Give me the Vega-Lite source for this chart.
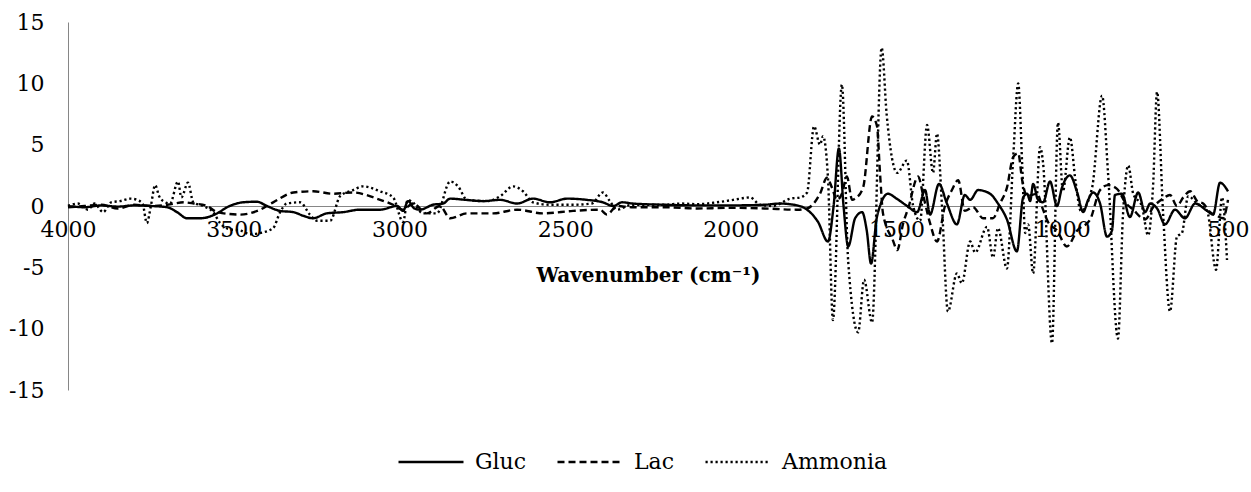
{
"$schema": "https://vega.github.io/schema/vega-lite/v6.json",
"width": 1160, "height": 368,
"autosize": {"type": "none"},
"padding": {"left": 68, "top": 22, "right": 23, "bottom": 102},
"config": {"view": {"stroke": null}, "font": "DejaVu Serif"},
"data": {"values": [
{"w":4000,"v":0,"s":"Gluc"},{"w":3950,"v":-0.1,"s":"Gluc"},{"w":3900,"v":0.05,"s":"Gluc"},{"w":3850,"v":-0.05,"s":"Gluc"},{"w":3800,"v":0.05,"s":"Gluc"},{"w":3750,"v":0,"s":"Gluc"},{"w":3701,"v":-0.1,"s":"Gluc"},{"w":3671,"v":-0.5,"s":"Gluc"},{"w":3641,"v":-1.0,"s":"Gluc"},{"w":3600,"v":-1.0,"s":"Gluc"},{"w":3550,"v":-0.6,"s":"Gluc"},{"w":3520,"v":-0.1,"s":"Gluc"},{"w":3472,"v":0.3,"s":"Gluc"},{"w":3430,"v":0.35,"s":"Gluc"},{"w":3400,"v":0,"s":"Gluc"},{"w":3360,"v":-0.4,"s":"Gluc"},{"w":3320,"v":-0.5,"s":"Gluc"},{"w":3290,"v":-0.8,"s":"Gluc"},{"w":3261,"v":-1.0,"s":"Gluc"},{"w":3219,"v":-0.6,"s":"Gluc"},{"w":3170,"v":-0.5,"s":"Gluc"},{"w":3119,"v":-0.3,"s":"Gluc"},{"w":3059,"v":-0.3,"s":"Gluc"},{"w":3007,"v":0,"s":"Gluc"},{"w":2989,"v":-0.4,"s":"Gluc"},{"w":2974,"v":0.4,"s":"Gluc"},{"w":2955,"v":-0.2,"s":"Gluc"},{"w":2938,"v":-0.3,"s":"Gluc"},{"w":2899,"v":0.1,"s":"Gluc"},{"w":2868,"v":0.2,"s":"Gluc"},{"w":2847,"v":0.6,"s":"Gluc"},{"w":2800,"v":0.5,"s":"Gluc"},{"w":2748,"v":0.4,"s":"Gluc"},{"w":2696,"v":0.5,"s":"Gluc"},{"w":2645,"v":0.2,"s":"Gluc"},{"w":2597,"v":0.6,"s":"Gluc"},{"w":2546,"v":0.3,"s":"Gluc"},{"w":2494,"v":0.6,"s":"Gluc"},{"w":2434,"v":0.5,"s":"Gluc"},{"w":2386,"v":0.3,"s":"Gluc"},{"w":2355,"v":0,"s":"Gluc"},{"w":2328,"v":0.3,"s":"Gluc"},{"w":2295,"v":0.2,"s":"Gluc"},{"w":2200,"v":0.1,"s":"Gluc"},{"w":2100,"v":0.05,"s":"Gluc"},{"w":2000,"v":0.05,"s":"Gluc"},{"w":1900,"v":0.1,"s":"Gluc"},{"w":1852,"v":0.2,"s":"Gluc"},{"w":1800,"v":0.05,"s":"Gluc"},{"w":1770,"v":-0.3,"s":"Gluc"},{"w":1737,"v":-1.3,"s":"Gluc"},{"w":1707,"v":-2.9,"s":"Gluc"},{"w":1690,"v":0,"s":"Gluc"},{"w":1674,"v":4.7,"s":"Gluc"},{"w":1660,"v":0,"s":"Gluc"},{"w":1646,"v":-3.3,"s":"Gluc"},{"w":1625,"v":-1.0,"s":"Gluc"},{"w":1604,"v":-0.5,"s":"Gluc"},{"w":1590,"v":-2.0,"s":"Gluc"},{"w":1577,"v":-4.7,"s":"Gluc"},{"w":1560,"v":-1.0,"s":"Gluc"},{"w":1550,"v":0,"s":"Gluc"},{"w":1526,"v":1.0,"s":"Gluc"},{"w":1500,"v":0.6,"s":"Gluc"},{"w":1468,"v":0,"s":"Gluc"},{"w":1438,"v":-0.5,"s":"Gluc"},{"w":1414,"v":1.3,"s":"Gluc"},{"w":1399,"v":-0.7,"s":"Gluc"},{"w":1372,"v":1.8,"s":"Gluc"},{"w":1348,"v":0.2,"s":"Gluc"},{"w":1318,"v":-1.5,"s":"Gluc"},{"w":1294,"v":0.9,"s":"Gluc"},{"w":1278,"v":0.5,"s":"Gluc"},{"w":1254,"v":1.3,"s":"Gluc"},{"w":1218,"v":1.0,"s":"Gluc"},{"w":1194,"v":0.2,"s":"Gluc"},{"w":1167,"v":-1.1,"s":"Gluc"},{"w":1137,"v":-3.7,"s":"Gluc"},{"w":1118,"v":0.7,"s":"Gluc"},{"w":1106,"v":1.0,"s":"Gluc"},{"w":1097,"v":0.4,"s":"Gluc"},{"w":1088,"v":1.8,"s":"Gluc"},{"w":1073,"v":0.5,"s":"Gluc"},{"w":1058,"v":0.3,"s":"Gluc"},{"w":1037,"v":2.0,"s":"Gluc"},{"w":1016,"v":0,"s":"Gluc"},{"w":1001,"v":1.5,"s":"Gluc"},{"w":977,"v":2.5,"s":"Gluc"},{"w":955,"v":1.1,"s":"Gluc"},{"w":937,"v":-0.5,"s":"Gluc"},{"w":922,"v":0.5,"s":"Gluc"},{"w":907,"v":1.1,"s":"Gluc"},{"w":886,"v":0.2,"s":"Gluc"},{"w":865,"v":-2.5,"s":"Gluc"},{"w":850,"v":-2.0,"s":"Gluc"},{"w":841,"v":0.9,"s":"Gluc"},{"w":820,"v":1.0,"s":"Gluc"},{"w":796,"v":-0.9,"s":"Gluc"},{"w":771,"v":1.1,"s":"Gluc"},{"w":750,"v":-0.5,"s":"Gluc"},{"w":735,"v":0.2,"s":"Gluc"},{"w":714,"v":-0.2,"s":"Gluc"},{"w":690,"v":-1.5,"s":"Gluc"},{"w":660,"v":-0.3,"s":"Gluc"},{"w":630,"v":-1.0,"s":"Gluc"},{"w":599,"v":0.2,"s":"Gluc"},{"w":563,"v":-0.4,"s":"Gluc"},{"w":545,"v":-0.7,"s":"Gluc"},{"w":524,"v":1.9,"s":"Gluc"},{"w":500,"v":1.2,"s":"Gluc"},

{"w":4000,"v":-0.1,"s":"Lac"},{"w":3950,"v":0,"s":"Lac"},{"w":3900,"v":0.1,"s":"Lac"},{"w":3850,"v":-0.2,"s":"Lac"},{"w":3800,"v":0.1,"s":"Lac"},{"w":3750,"v":0,"s":"Lac"},{"w":3700,"v":0.1,"s":"Lac"},{"w":3650,"v":0.3,"s":"Lac"},{"w":3620,"v":0.2,"s":"Lac"},{"w":3580,"v":0,"s":"Lac"},{"w":3550,"v":-0.5,"s":"Lac"},{"w":3481,"v":-0.7,"s":"Lac"},{"w":3420,"v":-0.3,"s":"Lac"},{"w":3381,"v":0.3,"s":"Lac"},{"w":3320,"v":1.1,"s":"Lac"},{"w":3260,"v":1.2,"s":"Lac"},{"w":3200,"v":1.0,"s":"Lac"},{"w":3140,"v":1.1,"s":"Lac"},{"w":3068,"v":0.6,"s":"Lac"},{"w":3019,"v":0.1,"s":"Lac"},{"w":2990,"v":-0.3,"s":"Lac"},{"w":2959,"v":0.2,"s":"Lac"},{"w":2917,"v":-0.6,"s":"Lac"},{"w":2878,"v":0,"s":"Lac"},{"w":2847,"v":-1.0,"s":"Lac"},{"w":2796,"v":-0.6,"s":"Lac"},{"w":2717,"v":-0.6,"s":"Lac"},{"w":2645,"v":-0.3,"s":"Lac"},{"w":2567,"v":-0.6,"s":"Lac"},{"w":2476,"v":-0.4,"s":"Lac"},{"w":2395,"v":-0.3,"s":"Lac"},{"w":2374,"v":-0.7,"s":"Lac"},{"w":2343,"v":0,"s":"Lac"},{"w":2300,"v":-0.1,"s":"Lac"},{"w":2200,"v":-0.1,"s":"Lac"},{"w":2100,"v":-0.2,"s":"Lac"},{"w":2000,"v":-0.15,"s":"Lac"},{"w":1900,"v":-0.2,"s":"Lac"},{"w":1800,"v":-0.3,"s":"Lac"},{"w":1770,"v":-0.2,"s":"Lac"},{"w":1731,"v":1.0,"s":"Lac"},{"w":1710,"v":2.3,"s":"Lac"},{"w":1695,"v":1.5,"s":"Lac"},{"w":1680,"v":0.5,"s":"Lac"},{"w":1665,"v":1.0,"s":"Lac"},{"w":1650,"v":2.4,"s":"Lac"},{"w":1634,"v":0.5,"s":"Lac"},{"w":1625,"v":0.6,"s":"Lac"},{"w":1601,"v":1.5,"s":"Lac"},{"w":1574,"v":7.3,"s":"Lac"},{"w":1559,"v":6.5,"s":"Lac"},{"w":1550,"v":2.7,"s":"Lac"},{"w":1541,"v":-0.6,"s":"Lac"},{"w":1511,"v":-2.8,"s":"Lac"},{"w":1498,"v":-3.6,"s":"Lac"},{"w":1480,"v":-1.4,"s":"Lac"},{"w":1465,"v":-0.2,"s":"Lac"},{"w":1435,"v":2.4,"s":"Lac"},{"w":1420,"v":0.9,"s":"Lac"},{"w":1399,"v":-1.4,"s":"Lac"},{"w":1378,"v":-2.9,"s":"Lac"},{"w":1354,"v":0,"s":"Lac"},{"w":1333,"v":1.3,"s":"Lac"},{"w":1314,"v":2.1,"s":"Lac"},{"w":1294,"v":-0.4,"s":"Lac"},{"w":1269,"v":-0.1,"s":"Lac"},{"w":1239,"v":-1.0,"s":"Lac"},{"w":1209,"v":-1.0,"s":"Lac"},{"w":1188,"v":0.2,"s":"Lac"},{"w":1167,"v":1.5,"s":"Lac"},{"w":1148,"v":4.0,"s":"Lac"},{"w":1133,"v":4.3,"s":"Lac"},{"w":1121,"v":2.1,"s":"Lac"},{"w":1106,"v":0.8,"s":"Lac"},{"w":1076,"v":1.0,"s":"Lac"},{"w":1058,"v":-0.3,"s":"Lac"},{"w":1043,"v":-1.3,"s":"Lac"},{"w":1016,"v":-2.0,"s":"Lac"},{"w":986,"v":-3.3,"s":"Lac"},{"w":955,"v":-2.0,"s":"Lac"},{"w":916,"v":-1.1,"s":"Lac"},{"w":886,"v":1.3,"s":"Lac"},{"w":862,"v":1.7,"s":"Lac"},{"w":835,"v":1.4,"s":"Lac"},{"w":810,"v":0.3,"s":"Lac"},{"w":786,"v":-0.3,"s":"Lac"},{"w":750,"v":-1.1,"s":"Lac"},{"w":726,"v":-0.1,"s":"Lac"},{"w":696,"v":0.6,"s":"Lac"},{"w":675,"v":0.9,"s":"Lac"},{"w":654,"v":0,"s":"Lac"},{"w":635,"v":0.7,"s":"Lac"},{"w":614,"v":1.2,"s":"Lac"},{"w":593,"v":0.4,"s":"Lac"},{"w":575,"v":0.2,"s":"Lac"},{"w":554,"v":-0.5,"s":"Lac"},{"w":533,"v":-0.8,"s":"Lac"},{"w":515,"v":-1.0,"s":"Lac"},{"w":500,"v":0.5,"s":"Lac"},

{"w":4000,"v":0,"s":"Ammonia"},{"w":3970,"v":0.2,"s":"Ammonia"},{"w":3940,"v":-0.3,"s":"Ammonia"},{"w":3920,"v":0.2,"s":"Ammonia"},{"w":3894,"v":-0.5,"s":"Ammonia"},{"w":3870,"v":0.3,"s":"Ammonia"},{"w":3843,"v":0.4,"s":"Ammonia"},{"w":3810,"v":0.6,"s":"Ammonia"},{"w":3792,"v":0.5,"s":"Ammonia"},{"w":3775,"v":0.2,"s":"Ammonia"},{"w":3762,"v":-1.4,"s":"Ammonia"},{"w":3750,"v":0,"s":"Ammonia"},{"w":3737,"v":1.7,"s":"Ammonia"},{"w":3725,"v":0.8,"s":"Ammonia"},{"w":3713,"v":0.4,"s":"Ammonia"},{"w":3692,"v":0.2,"s":"Ammonia"},{"w":3668,"v":2.0,"s":"Ammonia"},{"w":3658,"v":0.7,"s":"Ammonia"},{"w":3638,"v":1.9,"s":"Ammonia"},{"w":3622,"v":0.3,"s":"Ammonia"},{"w":3592,"v":0,"s":"Ammonia"},{"w":3562,"v":-0.5,"s":"Ammonia"},{"w":3541,"v":-1.4,"s":"Ammonia"},{"w":3511,"v":-1.9,"s":"Ammonia"},{"w":3480,"v":-2.0,"s":"Ammonia"},{"w":3450,"v":-2.3,"s":"Ammonia"},{"w":3420,"v":-2.2,"s":"Ammonia"},{"w":3381,"v":-1.8,"s":"Ammonia"},{"w":3360,"v":-0.5,"s":"Ammonia"},{"w":3340,"v":0.2,"s":"Ammonia"},{"w":3300,"v":0.3,"s":"Ammonia"},{"w":3270,"v":-0.7,"s":"Ammonia"},{"w":3249,"v":-1.2,"s":"Ammonia"},{"w":3209,"v":-1.2,"s":"Ammonia"},{"w":3179,"v":0.8,"s":"Ammonia"},{"w":3140,"v":1.3,"s":"Ammonia"},{"w":3110,"v":1.6,"s":"Ammonia"},{"w":3059,"v":1.2,"s":"Ammonia"},{"w":3019,"v":0.7,"s":"Ammonia"},{"w":2989,"v":-1.3,"s":"Ammonia"},{"w":2975,"v":0.5,"s":"Ammonia"},{"w":2960,"v":0.3,"s":"Ammonia"},{"w":2929,"v":-0.6,"s":"Ammonia"},{"w":2887,"v":-0.6,"s":"Ammonia"},{"w":2847,"v":2.0,"s":"Ammonia"},{"w":2823,"v":1.6,"s":"Ammonia"},{"w":2796,"v":0.5,"s":"Ammonia"},{"w":2736,"v":0.4,"s":"Ammonia"},{"w":2696,"v":0.8,"s":"Ammonia"},{"w":2657,"v":1.6,"s":"Ammonia"},{"w":2627,"v":1.2,"s":"Ammonia"},{"w":2597,"v":0.3,"s":"Ammonia"},{"w":2546,"v":0.1,"s":"Ammonia"},{"w":2476,"v":0.1,"s":"Ammonia"},{"w":2420,"v":0.2,"s":"Ammonia"},{"w":2386,"v":1.1,"s":"Ammonia"},{"w":2365,"v":0.4,"s":"Ammonia"},{"w":2343,"v":-0.3,"s":"Ammonia"},{"w":2300,"v":0.1,"s":"Ammonia"},{"w":2200,"v":0.1,"s":"Ammonia"},{"w":2150,"v":0.2,"s":"Ammonia"},{"w":2100,"v":0.15,"s":"Ammonia"},{"w":2042,"v":0.3,"s":"Ammonia"},{"w":1993,"v":0.5,"s":"Ammonia"},{"w":1972,"v":0.6,"s":"Ammonia"},{"w":1942,"v":0.7,"s":"Ammonia"},{"w":1912,"v":0.1,"s":"Ammonia"},{"w":1873,"v":0,"s":"Ammonia"},{"w":1821,"v":0.6,"s":"Ammonia"},{"w":1791,"v":0.7,"s":"Ammonia"},{"w":1770,"v":1.1,"s":"Ammonia"},{"w":1749,"v":6.5,"s":"Ammonia"},{"w":1731,"v":5.0,"s":"Ammonia"},{"w":1722,"v":5.7,"s":"Ammonia"},{"w":1707,"v":2.3,"s":"Ammonia"},{"w":1692,"v":-9.3,"s":"Ammonia"},{"w":1665,"v":9.9,"s":"Ammonia"},{"w":1646,"v":-4.5,"s":"Ammonia"},{"w":1616,"v":-10.3,"s":"Ammonia"},{"w":1598,"v":-6.0,"s":"Ammonia"},{"w":1574,"v":-9.5,"s":"Ammonia"},{"w":1545,"v":12.9,"s":"Ammonia"},{"w":1530,"v":7.5,"s":"Ammonia"},{"w":1498,"v":2.7,"s":"Ammonia"},{"w":1469,"v":3.7,"s":"Ammonia"},{"w":1450,"v":0,"s":"Ammonia"},{"w":1429,"v":-1.2,"s":"Ammonia"},{"w":1408,"v":6.6,"s":"Ammonia"},{"w":1390,"v":2.7,"s":"Ammonia"},{"w":1378,"v":5.9,"s":"Ammonia"},{"w":1363,"v":0,"s":"Ammonia"},{"w":1345,"v":-8.6,"s":"Ammonia"},{"w":1318,"v":-5.5,"s":"Ammonia"},{"w":1303,"v":-6.3,"s":"Ammonia"},{"w":1278,"v":-2.9,"s":"Ammonia"},{"w":1263,"v":-3.8,"s":"Ammonia"},{"w":1227,"v":-1.7,"s":"Ammonia"},{"w":1209,"v":-4.2,"s":"Ammonia"},{"w":1194,"v":-1.8,"s":"Ammonia"},{"w":1167,"v":-5.1,"s":"Ammonia"},{"w":1148,"v":4.0,"s":"Ammonia"},{"w":1133,"v":10.0,"s":"Ammonia"},{"w":1121,"v":3.4,"s":"Ammonia"},{"w":1112,"v":-2.2,"s":"Ammonia"},{"w":1103,"v":-1.5,"s":"Ammonia"},{"w":1088,"v":-5.5,"s":"Ammonia"},{"w":1067,"v":4.8,"s":"Ammonia"},{"w":1058,"v":3.5,"s":"Ammonia"},{"w":1031,"v":-11.2,"s":"Ammonia"},{"w":1013,"v":6.8,"s":"Ammonia"},{"w":998,"v":1.2,"s":"Ammonia"},{"w":977,"v":5.6,"s":"Ammonia"},{"w":960,"v":2.0,"s":"Ammonia"},{"w":944,"v":-0.4,"s":"Ammonia"},{"w":910,"v":1.5,"s":"Ammonia"},{"w":880,"v":9.0,"s":"Ammonia"},{"w":862,"v":2.7,"s":"Ammonia"},{"w":832,"v":-10.8,"s":"Ammonia"},{"w":817,"v":-0.8,"s":"Ammonia"},{"w":801,"v":3.3,"s":"Ammonia"},{"w":786,"v":1.0,"s":"Ammonia"},{"w":760,"v":0,"s":"Ammonia"},{"w":741,"v":-2.4,"s":"Ammonia"},{"w":726,"v":1.7,"s":"Ammonia"},{"w":714,"v":9.3,"s":"Ammonia"},{"w":696,"v":-0.5,"s":"Ammonia"},{"w":675,"v":-8.6,"s":"Ammonia"},{"w":654,"v":-2.5,"s":"Ammonia"},{"w":639,"v":-2.2,"s":"Ammonia"},{"w":620,"v":0.8,"s":"Ammonia"},{"w":593,"v":0.2,"s":"Ammonia"},{"w":563,"v":-0.4,"s":"Ammonia"},{"w":536,"v":-5.2,"s":"Ammonia"},{"w":518,"v":0.7,"s":"Ammonia"},{"w":503,"v":-4.4,"s":"Ammonia"}
]},
"mark": {"type": "line", "strokeWidth": 2.4, "color": "#000", "interpolate": "monotone"},
"encoding": {
  "x": {"field": "w", "type": "quantitative",
    "scale": {"domain": [500, 4000], "reverse": true, "nice": false, "zero": false},
    "axis": {"title": "Wavenumber (cm⁻¹)", "values": [4000, 3500, 3000, 2500, 2000, 1500, 1000, 500], "format": "d",
      "ticks": false, "grid": false, "domainColor": "#868686", "domainWidth": 1, "offset": -184,
      "labelFont": "DejaVu Serif", "labelFontSize": 22, "labelColor": "#000", "labelPadding": 13,
      "labelFlush": false, "labelOverlap": false, "labelBound": false,
      "titleFont": "DejaVu Serif", "titleFontSize": 20, "titleFontWeight": "bold", "titleColor": "#000", "titlePadding": 25}},
  "y": {"field": "v", "type": "quantitative",
    "scale": {"domain": [-15, 15], "nice": false},
    "axis": {"title": null, "values": [-15, -10, -5, 0, 5, 10, 15], "labelExpr": "'' + datum.value",
      "ticks": false, "grid": false, "domainColor": "#868686", "domainWidth": 1,
      "labelFont": "DejaVu Serif", "labelFontSize": 22, "labelColor": "#000", "labelPadding": 24}},
  "strokeDash": {"field": "s", "type": "nominal", "sort": ["Gluc", "Lac", "Ammonia"],
    "scale": {"domain": ["Gluc", "Lac", "Ammonia"], "range": [[1, 0], [7, 4], [2.2, 2.8]]},
    "legend": {"title": null, "orient": "none", "legendX": 329, "legendY": 406, "direction": "horizontal", "symbolType": "stroke",
      "symbolSize": 4225, "symbolStrokeWidth": 2.4, "symbolStrokeColor": "#000",
      "labelFont": "DejaVu Serif", "labelFontSize": 22, "labelColor": "#000", "labelOffset": 10,
      "columnPadding": 25}}
}
}
